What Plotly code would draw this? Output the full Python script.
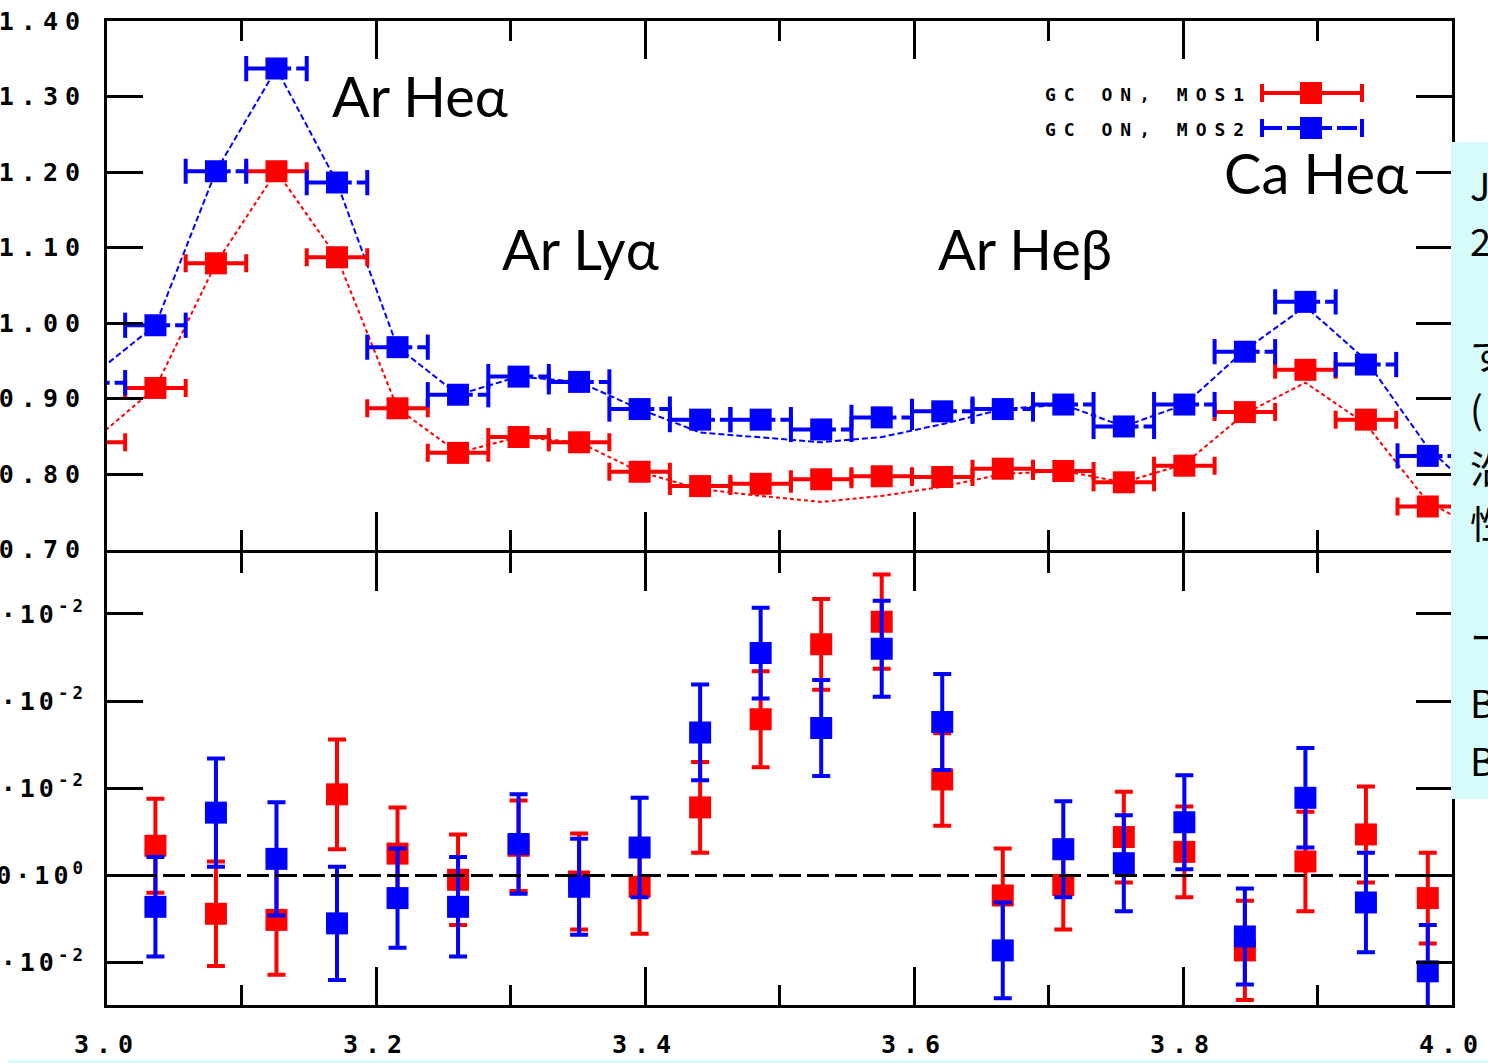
import plotly.graph_objects as go

# ---------------------------------------------------------------------------
# Data
# ---------------------------------------------------------------------------
# Bin centres (keV) and half bin width
energy = [2.991, 3.036, 3.081, 3.126, 3.171, 3.216, 3.261, 3.306, 3.351, 3.396, 3.441, 3.486,
          3.531, 3.576, 3.621, 3.666, 3.711, 3.756, 3.801, 3.846, 3.891, 3.936, 3.982]
energy_halfwidth = 0.0225

# Upper panel: ratio per bin
ratio_mos1 = [0.842, 0.914, 1.079, 1.201, 1.087, 0.887, 0.828, 0.849, 0.842, 0.803, 0.784, 0.787,
              0.793, 0.797, 0.796, 0.807, 0.804, 0.789, 0.811, 0.882, 0.938, 0.872, 0.757]
ratio_mos2 = [0.921, 0.997, 1.201, 1.337, 1.186, 0.968, 0.905, 0.929, 0.922, 0.886, 0.872, 0.872,
              0.859, 0.875, 0.883, 0.886, 0.892, 0.863, 0.892, 0.962, 1.028, 0.945, 0.824]

# Upper panel: dashed curves
curve_energy = [2.991, 3.036, 3.081, 3.126, 3.171, 3.216, 3.261, 3.306, 3.351, 3.396, 3.441, 3.486,
                3.531, 3.576, 3.621, 3.666, 3.711, 3.756, 3.801, 3.846, 3.891, 3.936, 3.982, 4.027]
curve_mos1 = [0.846, 0.914, 1.079, 1.201, 1.087, 0.887, 0.828, 0.849, 0.842, 0.803, 0.780, 0.771,
              0.763, 0.771, 0.783, 0.800, 0.804, 0.789, 0.813, 0.880, 0.921, 0.866, 0.763, 0.720]
curve_mos2 = [0.933, 0.997, 1.201, 1.337, 1.186, 0.968, 0.905, 0.929, 0.922, 0.886, 0.855, 0.849,
              0.842, 0.849, 0.866, 0.886, 0.892, 0.863, 0.892, 0.964, 1.022, 0.951, 0.835, 0.760]

# Lower panel: residuals (units of 1e-2), bins from 3.036 keV
resid_energy = energy[1:]
resid_mos1 = [0.34, -0.44, -0.51, 0.93, 0.25, -0.05, 0.34, -0.07, -0.13, 0.78, 1.79, 2.65,
              2.91, 1.10, -0.23, -0.11, 0.44, 0.27, -0.86, 0.16, 0.47, -0.26]
resid_mos1_err = [0.54, 0.60, 0.63, 0.63, 0.53, 0.52, 0.52, 0.55, 0.54, 0.52, 0.55, 0.52,
                  0.54, 0.53, 0.54, 0.51, 0.52, 0.52, 0.57, 0.57, 0.55, 0.52]
resid_mos2 = [-0.36, 0.72, 0.19, -0.55, -0.26, -0.36, 0.36, -0.13, 0.32, 1.64, 2.55, 1.69,
              2.60, 1.76, -0.86, 0.30, 0.14, 0.61, -0.70, 0.89, -0.31, -1.10]
resid_mos2_err = [0.57, 0.62, 0.65, 0.65, 0.57, 0.57, 0.57, 0.55, 0.57, 0.55, 0.52, 0.55,
                  0.55, 0.55, 0.55, 0.55, 0.55, 0.54, 0.55, 0.57, 0.57, 0.53]

# Axis ticks
x_major = [3.0, 3.2, 3.4, 3.6, 3.8, 4.0]
x_minor = [3.1, 3.3, 3.5, 3.7, 3.9]
ratio_ticks = [0.70, 0.80, 0.90, 1.00, 1.10, 1.20, 1.30, 1.40]
resid_ticks = [-1, 0, 1, 2, 3]
resid_tick_text = ["-1·10<sup>-2</sup>", "0·10<sup>0</sup>", "1·10<sup>-2</sup>",
                   "2·10<sup>-2</sup>", "3·10<sup>-2</sup>"]

# Line labels and legend entries
line_labels = ["Ar Heα", "Ar Lyα", "Ar Heβ", "Ca Heα"]
legend_labels = ["GC ON, MOS1", "GC ON, MOS2"]
side_text = ["J", "2", "す", "(", "沿", "性", "ー", "B", "B"]

# ---------------------------------------------------------------------------
# Layout geometry (pixels)
# ---------------------------------------------------------------------------
W, H = 1488, 1063
ML, MR, MT, MB = 107, 36, 21, 58
PW, PH = W - ML - MR, H - MT - MB
SPLIT_PX = 551
split = (H - MB - SPLIT_PX) / PH
half_line = 1.5 / PH  # keeps the shared panel border a single 3 px line

RED = "#ff0000"
BLUE = "#0000ff"
TICK_FONT = dict(family="DejaVu Sans Mono", size=25, color="black", weight="bold")
BAR_W = 4
CAP = 9


def px(x):
    return (x - ML) / PW


def py(y):
    return (H - MB - y) / PH


def spaced(s, gap=7):
    return '<span style="letter-spacing:%dpx">%s</span>' % (gap, s)


fig = go.Figure()

# Dashed curves in the upper panel
fig.add_trace(go.Scatter(x=curve_energy, y=curve_mos1, mode="lines", xaxis="x", yaxis="y",
                         line=dict(color=RED, width=2, dash="4px,3px"), showlegend=False))
fig.add_trace(go.Scatter(x=curve_energy, y=curve_mos2, mode="lines", xaxis="x", yaxis="y",
                         line=dict(color=BLUE, width=2, dash="6px,3px"), showlegend=False))

# MOS1 ratio points with solid bin bars
fig.add_trace(go.Scatter(
    x=energy, y=ratio_mos1, mode="markers", xaxis="x", yaxis="y", showlegend=False,
    marker=dict(symbol="square", size=22, color=RED),
    error_x=dict(type="constant", value=energy_halfwidth, color=RED, thickness=BAR_W, width=CAP),
))

# MOS2 ratio points with dashed bin bars (bar segments + end caps + markers)
bar_x, bar_y = [], []
for e, r in zip(energy, ratio_mos2):
    bar_x += [e - energy_halfwidth, e + energy_halfwidth, None]
    bar_y += [r, r, None]
fig.add_trace(go.Scatter(x=bar_x, y=bar_y, mode="lines", xaxis="x", yaxis="y",
                         line=dict(color=BLUE, width=BAR_W, dash="20px,5px"),
                         showlegend=False))
cap_x = [e - energy_halfwidth for e in energy] + [e + energy_halfwidth for e in energy]
cap_y = ratio_mos2 + ratio_mos2
fig.add_trace(go.Scatter(x=cap_x, y=cap_y, mode="markers", xaxis="x", yaxis="y",
                         marker=dict(symbol="line-ns", size=2 * CAP,
                                     line=dict(color=BLUE, width=BAR_W)),
                         showlegend=False))
fig.add_trace(go.Scatter(x=energy, y=ratio_mos2, mode="markers", xaxis="x", yaxis="y",
                         marker=dict(symbol="square", size=22, color=BLUE), showlegend=False))

# Residual points with vertical error bars
for ys, es, col in ((resid_mos1, resid_mos1_err, RED), (resid_mos2, resid_mos2_err, BLUE)):
    fig.add_trace(go.Scatter(
        x=resid_energy, y=ys, mode="markers", xaxis="x2", yaxis="y2", showlegend=False,
        marker=dict(symbol="square", size=22, color=col),
        error_y=dict(type="data", array=es, color=col, thickness=BAR_W, width=CAP),
    ))

axis_common = dict(showline=True, linewidth=3, linecolor="black", mirror="ticks",
                   ticks="inside", tickwidth=3, tickcolor="black", showgrid=False,
                   zeroline=False, tickfont=TICK_FONT, automargin=False)

minor_x = dict(tickmode="array", tickvals=x_minor, ticks="inside", ticklen=20,
               tickwidth=3, tickcolor="black", showgrid=False)

fig.update_layout(
    template="none",
    width=W, height=H,
    margin=dict(l=ML, r=MR, t=MT, b=MB, autoexpand=False),
    paper_bgcolor="white", plot_bgcolor="white",
    showlegend=False,
    xaxis=dict(domain=[0, 1], range=[3.0, 4.0], anchor="y", tickmode="array",
               tickvals=x_major, ticklen=38, showticklabels=False, minor=minor_x,
               **axis_common),
    yaxis=dict(domain=[split + half_line, 1], range=[0.70, 1.40], anchor="x",
               tickmode="array", tickvals=ratio_ticks,
               ticktext=[spaced("%.2f" % v) for v in ratio_ticks],
               ticklen=36, ticklabelstandoff=12, **axis_common),
    xaxis2=dict(domain=[0, 1], range=[3.0, 4.0], anchor="y2", tickmode="array",
                tickvals=x_major, ticktext=[spaced("%.1f" % v) for v in x_major],
                ticklen=38, ticklabelstandoff=15, minor=minor_x, **axis_common),
    yaxis2=dict(domain=[0, split - half_line], range=[-1.486, 3.703], anchor="x2",
                tickmode="array", tickvals=resid_ticks,
                ticktext=[spaced(t, 4) for t in resid_tick_text],
                ticklen=36, ticklabelstandoff=12, **axis_common),
)

shapes = []
# Zero reference line in the residual panel
shapes.append(dict(type="line", xref="x2 domain", yref="y2", x0=0, x1=1, y0=0, y1=0,
                   line=dict(color="black", width=3, dash="22px,6px"), layer="above"))

# Legend keys: bar with end caps and a square marker
for i, (col, dash) in enumerate(((RED, "solid"), (BLUE, "20px,5px"))):
    yc = 93 + 35 * i
    shapes.append(dict(type="line", xref="paper", yref="paper", x0=px(1262), x1=px(1362),
                       y0=py(yc), y1=py(yc), line=dict(color=col, width=BAR_W, dash=dash)))
    for xe in (1262, 1362):
        shapes.append(dict(type="line", xref="paper", yref="paper", x0=px(xe), x1=px(xe),
                           y0=py(yc - CAP), y1=py(yc + CAP),
                           line=dict(color=col, width=BAR_W)))
    shapes.append(dict(type="rect", xref="paper", yref="paper", x0=px(1300), x1=px(1322),
                       y0=py(yc - 11), y1=py(yc + 11), fillcolor=col, line=dict(width=0)))

# Pale cyan panel on the right edge and strip along the bottom
shapes.append(dict(type="rect", xref="paper", yref="paper", x0=px(1451), x1=px(1500),
                   y0=py(799), y1=py(142), fillcolor="#d6fbfb", line=dict(width=0),
                   layer="above"))
shapes.append(dict(type="rect", xref="paper", yref="paper", x0=px(8), x1=px(1500),
                   y0=py(1063), y1=py(1060), fillcolor="#d6fbfb", line=dict(width=0),
                   layer="above"))
fig.update_layout(shapes=shapes)

annotations = []
label_pos = [(330, 96), (500, 249), (936, 249), (1222, 173)]
for txt, (xl, yc) in zip(line_labels, label_pos):
    annotations.append(dict(text=txt, xref="paper", yref="paper", x=px(xl), y=py(yc),
                            xanchor="left", yanchor="middle", showarrow=False,
                            font=dict(family="Lato, 'Open Sans', sans-serif", size=56,
                                      color="black")))
for i, txt in enumerate(legend_labels):
    annotations.append(dict(text=spaced(txt, 8), xref="paper", yref="paper", x=px(1254),
                            y=py(94 + 35 * i), xanchor="right", yanchor="middle",
                            showarrow=False,
                            font=dict(family="DejaVu Sans Mono", size=18, color="black",
                                      weight="bold")))
side_y = [185, 240, 352, 407, 466, 521, 635, 701, 759]
for txt, yc in zip(side_text, side_y):
    annotations.append(dict(text=txt, xref="paper", yref="paper", x=px(1468), y=py(yc),
                            xanchor="left", yanchor="middle", showarrow=False,
                            font=dict(family="Noto Sans CJK JP", size=38, color="black")))
fig.update_layout(annotations=annotations)

fig.write_html("out.html")
